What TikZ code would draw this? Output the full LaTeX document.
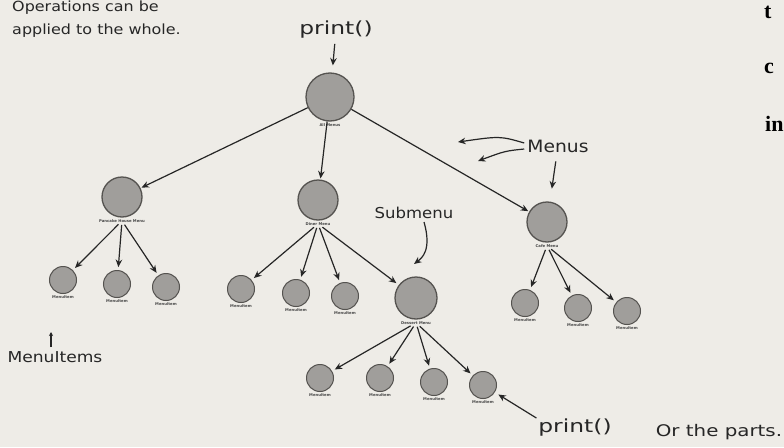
\documentclass[tikz,border=0pt]{standalone}
\usepackage{fontspec}
\setmainfont{DejaVu Sans}
\newfontfamily\serifb{Liberation Serif}
\usetikzlibrary{arrows.meta,positioning}
\definecolor{paper}{HTML}{EEECE7}
\definecolor{ink}{HTML}{262626}
\definecolor{ball}{HTML}{A09E9B}
\definecolor{ballrim}{HTML}{555350}
\begin{document}
\begin{tikzpicture}[x=1pt,y=-1pt,
  menu/.style={circle, draw=ballrim, line width=1.3pt, fill=ball, minimum size=40pt, inner sep=0pt},
  item/.style={circle, draw=ballrim, line width=1pt, fill=ball, minimum size=27pt, inner sep=0pt},
  tag/.style={font=\fontsize{3.8}{4}\selectfont\bfseries, text=ink!85, inner sep=0.5pt},
  arr/.style={-{Stealth[length=7.5pt,width=6.5pt]}, line width=1.2pt, draw=ink},
  hand/.style={text=ink, inner sep=0pt, transform shape},
  bigs/.style={font=\serifb\bfseries\fontsize{22}{22}\selectfont, text=black, inner sep=0pt, anchor=west}]
\useasboundingbox (0,0) rectangle (784,447);
\fill[paper] (0,0) rectangle (784,447);

% right-edge page letters (cut)
\begin{scope}
\clip (0,0) rectangle (784,447);
\node[bigs] (pt) at (764,12) {t};
\node[bigs] (pc) at (764,68) {c};
\node[bigs] (pi) at (765,124) {in};
\end{scope}

% menus
\node[menu, minimum size=48pt] (root) at (330,97) {};
\node[tag, below=1pt of root] (rootT) {All Menus};
\node[menu] (pan) at (122,197) {};
\node[tag, below=1pt of pan] (panT) {Pancake House Menu};
\node[menu] (din) at (318,200) {};
\node[tag, below=1pt of din] (dinT) {Diner Menu};
\node[menu] (cafe) at (547,222) {};
\node[tag, below=1pt of cafe] (cafeT) {Cafe Menu};
\node[menu, minimum size=42pt] (des) at (416,298) {};
\node[tag, below=1pt of des] (desT) {Dessert Menu};

% items
\foreach \n/\x/\y in {p1/63/280, p2/117/284, p3/166/287,
                       d1/241/289, d2/296/293, d3/345/296,
                       c1/525/303, c2/578/308, c3/627/311,
                       s1/320/378, s2/380/378, s3/434/382, s4/483/385} {
  \node[item] (\n) at (\x,\y) {};
  \node[tag, below=1pt of \n] (\n T) {MenuItem};
}

% tree connectors
\draw[arr, shorten >=1pt] (root) -- (pan);
\draw[arr, shorten >=1pt] (root) -- (din);
\draw[arr, shorten >=1pt] (root) -- (cafe);
\foreach \k in {p1,p2,p3} \draw[arr, shorten <=2pt, shorten >=3pt] (panT) -- (\k);
\foreach \k in {d1,d2,d3,des} \draw[arr, shorten <=2pt, shorten >=3pt] (dinT) -- (\k);
\foreach \k in {c1,c2,c3} \draw[arr, shorten <=2pt, shorten >=3pt] (cafeT) -- (\k);
\foreach \k in {s1,s2,s3,s4} \draw[arr, shorten <=2pt, shorten >=3pt] (desT) -- (\k);

% annotations
\node[hand, anchor=north west, align=left, xscale=1.14, font=\fontsize{14}{23}\selectfont] (ops) at (12,1) {Operations can be\\applied to the whole.};
\node[hand, xscale=1.3, font=\fontsize{18}{20}\selectfont] (printTop) at (336,30) {print()};
\draw[arr, shorten <=5pt, shorten >=7pt] (printTop) -- (root);

\node[hand, xscale=1.1, font=\fontsize{17}{19}\selectfont] (menus) at (558,146) {Menus};
\coordinate (m1) at (458,142);
\coordinate (m2) at (478,161);
\draw[arr] ([xshift=-3pt,yshift=3pt]menus.west) .. controls (500,136) .. (m1);
\draw[arr] ([xshift=-3pt,yshift=-3pt]menus.west) .. controls (505,151) .. (m2);
\draw[arr, shorten <=9pt, shorten >=13pt] (menus) -- (cafe);

\node[hand, xscale=1.1, font=\fontsize{15}{17}\selectfont] (sub) at (414,213) {Submenu};
\coordinate (subEnd) at (414,264);
\draw[arr] ([xshift=10pt,yshift=-3pt]sub.south) .. controls (432,250) and (422,258) .. (subEnd);

\node[hand, xscale=1.14, font=\fontsize{15}{17}\selectfont] (mitems) at (55,357) {MenuItems};
\coordinate (miTip) at (51,332);
\draw[-{Stealth[length=4pt,width=4pt]}, line width=1.1pt, draw=ink] ([xshift=-4pt,yshift=4pt]mitems.north) -- (miTip);

\node[hand, xscale=1.3, font=\fontsize{18}{20}\selectfont] (printBot) at (575,428) {print()};
\draw[arr, shorten <=2pt, shorten >=4pt] (printBot.north west) -- (s4);

\node[hand, xscale=1.24, font=\fontsize{16}{18}\selectfont] (parts) at (719,432) {Or the parts.};
\end{tikzpicture}
\end{document}
